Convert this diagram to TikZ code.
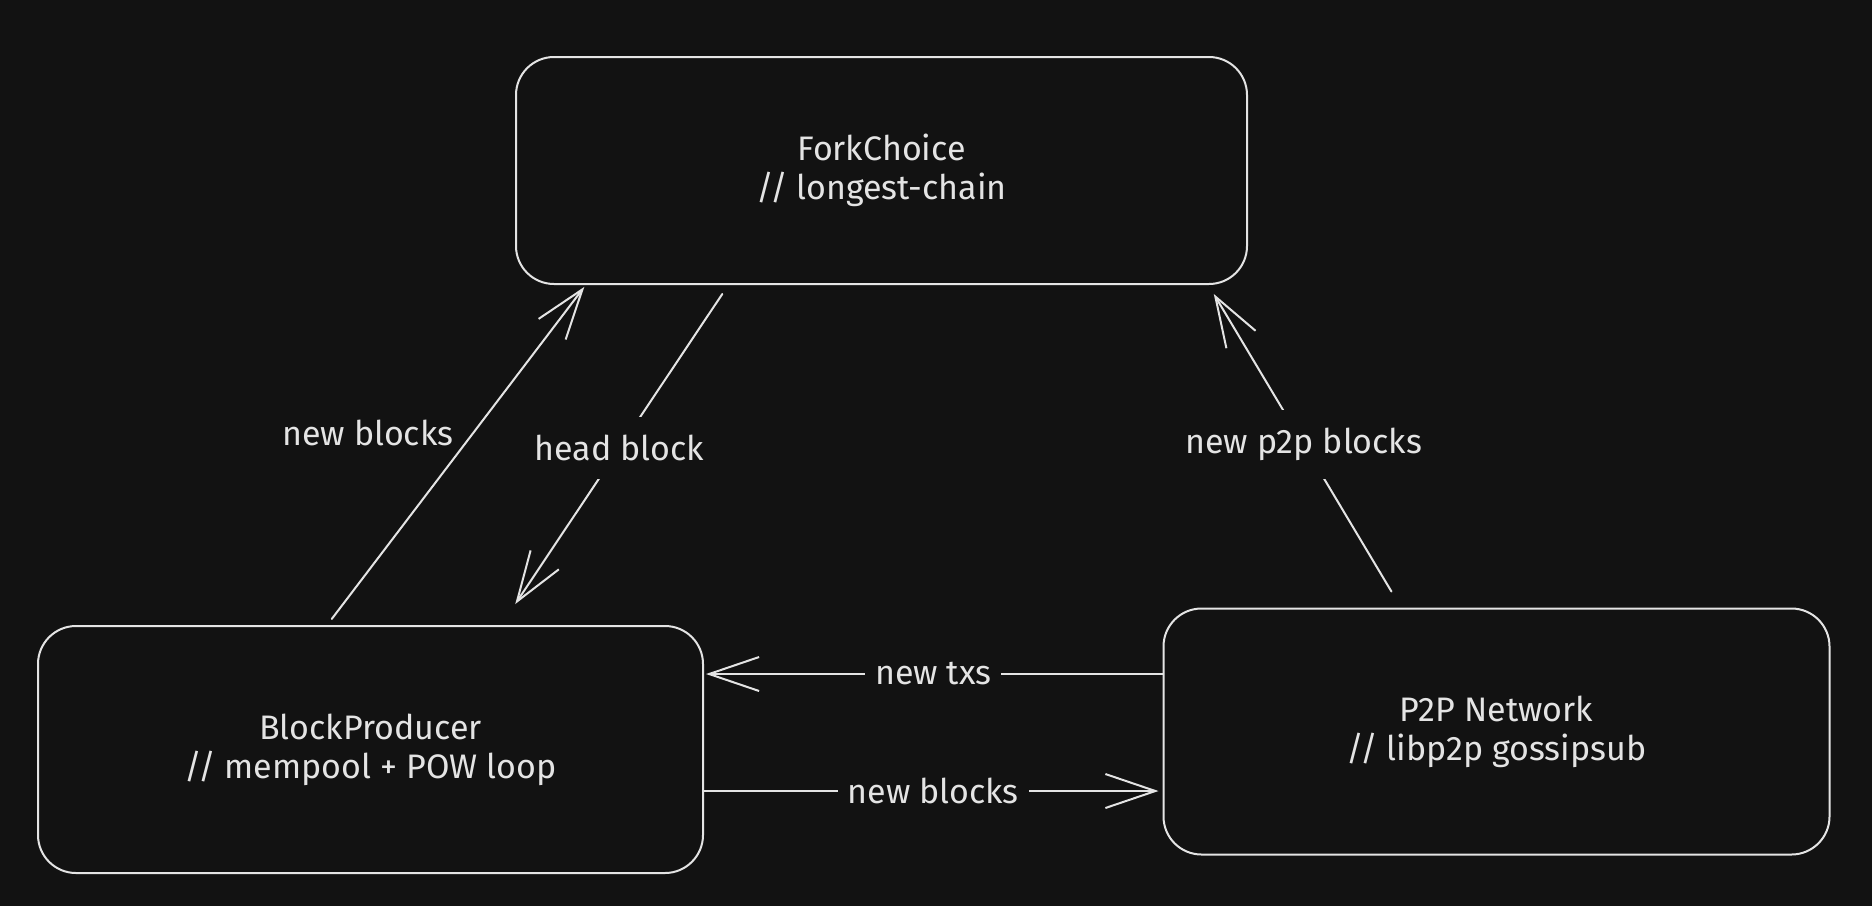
\documentclass[tikz,border=0pt]{standalone}
\usepackage{fontspec}
\setmainfont{Fira Sans}
\usetikzlibrary{arrows.meta,calc}
\definecolor{bg}{HTML}{121212}
\definecolor{fg}{HTML}{E4E4E4}
\begin{document}
\begin{tikzpicture}[x=0.5pt,y=-0.5pt,
  txt/.style={text=fg, font=\fontsize{17}{19.5}\selectfont},
  box/.style={txt, draw=fg, line width=1pt, rounded corners=19pt, fill=bg, align=center, inner sep=0pt},
  conn/.style={draw=fg, line width=1pt, line cap=round, line join=round, -{Straight Barb[length=25pt,width=17pt]}},
  lbl/.style={txt, fill=bg, inner xsep=5pt, inner ysep=9pt},
  sidelbl/.style={txt}]
\path[use as bounding box, fill=bg] (0,0) rectangle (1872,906);

\node[box, minimum width=365.5pt, minimum height=113.5pt] (fc) at (881.5,170.5) {ForkChoice\\// longest-chain};
\node[box, minimum width=332.5pt, minimum height=123.5pt] (bp) at (370.5,749.5) {BlockProducer\\// mempool + POW loop};
\node[box, minimum width=333pt, minimum height=123pt] (p2p) at (1496.5,731.5) {P2P Network\\// libp2p gossipsub};

\coordinate (txy) at (0,674);
\coordinate (nby) at (0,791);

% new blocks (BP -> FC)
\draw[conn, shorten <=3.8pt, shorten >=1.2pt]
  ($(bp.north west)!0.435!(bp.north east)$) --
  node[sidelbl, pos=0.564, left=6pt] {new blocks}
  ($(fc.south west)!0.0965!(fc.south east)$);

% head block (FC -> BP)
\draw[conn, shorten <=5.4pt, shorten >=12.6pt]
  ($(fc.south west)!0.291!(fc.south east)$) --
  node[lbl, pos=0.48] {head block}
  ($(bp.north west)!0.696!(bp.north east)$);

% new p2p blocks (P2P -> FC)
\draw[conn, shorten <=9.3pt, shorten >=5.2pt]
  ($(p2p.north west)!0.357!(p2p.north east)$) --
  node[lbl, pos=0.505] {new p2p blocks}
  ($(fc.south west)!0.946!(fc.south east)$);

% new txs (P2P -> BP)
\draw[conn, shorten >=1pt] (p2p.west |- txy) -- node[lbl] {new txs} (bp.east |- txy);

% new blocks (BP -> P2P)
\draw[conn, shorten >=2pt] (bp.east |- nby) -- node[lbl] {new blocks} (p2p.west |- nby);
\end{tikzpicture}
\end{document}
